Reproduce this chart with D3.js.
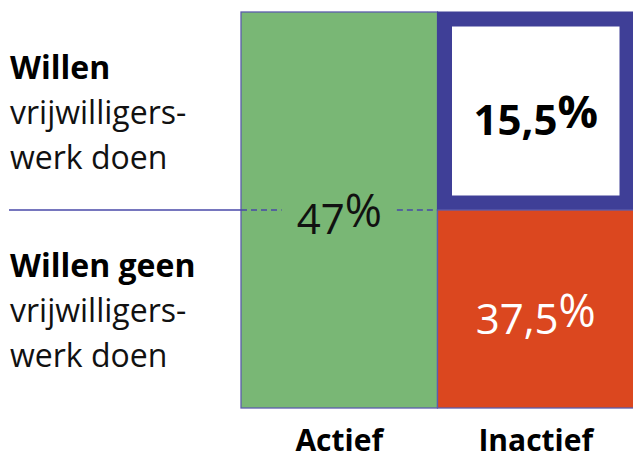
<!DOCTYPE html>
<html>
<head>
<meta charset="utf-8">
<script src="https://cdn.jsdelivr.net/npm/d3@7"></script>
<style>
  html, body { margin: 0; padding: 0; background: #ffffff; }
  svg { display: block; font-family: "Open Sans", sans-serif; }
</style>
</head>
<body>
<svg id="chart" width="633" height="460"></svg>
<script>
// ---- data ----
const columns = ["Actief", "Inactief"];
const rowKeys = ["Willen", "Willen geen"];
const rowLabelRest = ["vrijwilligers-", "werk doen"];
const actiefValues = [47];            // spans both rows
const inactiefValues = [15.5, 37.5];  // per row

// ---- setup ----
const svg = d3.select("#chart");
const nl = d3.formatLocale({ decimal: ",", thousands: ".", grouping: [3], currency: ["€", ""] });
const fmt = v => nl.format(Number.isInteger(v) ? "d" : ".1f")(v);

const x = d3.scaleBand().domain(columns).range([241, 634]).paddingInner(0);
const y = d3.scaleBand().domain(rowKeys).range([12, 408]).paddingInner(0);

const green = "#79b775", orange = "#db471f", blue = "#3f3f97", thin = "#5c5cac";

// Actief column (full height)
svg.append("g").selectAll("rect").data(actiefValues).join("rect")
  .attr("x", x("Actief")).attr("y", y.range()[0])
  .attr("width", x.bandwidth()).attr("height", y.range()[1] - y.range()[0])
  .attr("fill", green).attr("stroke", thin).attr("stroke-width", 1.3);

// Inactief cells
const inCells = rowKeys.map((r, i) => ({ row: r, value: inactiefValues[i] }));
const sw = 14;
svg.append("g").selectAll("rect").data(inCells).join("rect")
  .attr("x", d => d.row === "Willen" ? x("Inactief") + sw / 2 : x("Inactief"))
  .attr("y", d => d.row === "Willen" ? y(d.row) + sw / 2 : y(d.row))
  .attr("width", d => d.row === "Willen" ? x.bandwidth() - sw : x.bandwidth())
  .attr("height", d => d.row === "Willen" ? y.bandwidth() - sw : y.bandwidth())
  .attr("fill", d => d.row === "Willen" ? "#ffffff" : orange)
  .attr("stroke", d => d.row === "Willen" ? blue : thin)
  .attr("stroke-width", d => d.row === "Willen" ? sw + 1 : 1.3);

// Horizontal divider
const yMid = y("Willen geen");
svg.append("line")
  .attr("x1", 9).attr("x2", x("Actief")).attr("y1", yMid).attr("y2", yMid)
  .attr("stroke", "#4848a8").attr("stroke-width", 1.4);

// Percentage labels
function pctLabel(g, value, cx, baseline, color, weight) {
  const t = g.append("text").attr("x", cx).attr("y", baseline)
    .attr("text-anchor", "middle").attr("fill", color)
    .attr("font-size", 42).attr("font-weight", weight);
  t.append("tspan").attr("dy", 7).text(fmt(value));
  t.append("tspan").attr("dy", -7).attr("font-size", 45).text("%");
  return t;
}
const labels = svg.append("g");
const t47 = pctLabel(labels, actiefValues[0], x("Actief") + x.bandwidth() / 2, yMid + 17, "#111111", 400);
pctLabel(labels, inactiefValues[0], x("Inactief") + x.bandwidth() / 2, y("Willen") + 116, "#000000", 700);
pctLabel(labels, inactiefValues[1], x("Inactief") + x.bandwidth() / 2, y("Willen geen") + 117, "#ffffff", 400);

// dashed divider inside Actief column, gapped around the label
const bb = t47.node().getBBox();
svg.append("g").selectAll("line")
  .data([[x("Actief"), bb.x - 15], [bb.x + bb.width + 15, x("Actief") + x.bandwidth()]])
  .join("line")
  .attr("x1", d => d[0]).attr("x2", d => d[1]).attr("y1", yMid).attr("y2", yMid)
  .attr("stroke", "#4848a8").attr("stroke-width", 1.4).attr("stroke-dasharray", "6,4");

// Row labels (left)
const rowG = svg.append("g").selectAll("g").data(rowKeys).join("g");
rowG.append("text").attr("x", 10).attr("y", d => y(d) + y.bandwidth() / 2 - 32)
  .attr("font-size", 32).attr("font-weight", 700).attr("fill", "#000").text(d => d);
rowG.selectAll("text.rest").data(rowLabelRest).join("text").attr("class", "rest")
  .attr("x", 10)
  .attr("y", function (d, i) { const r = d3.select(this.parentNode).datum(); return y(r) + y.bandwidth() / 2 + 13 + i * 45; })
  .attr("font-size", 32).attr("fill", "#111").text(d => d);

// Column labels (bottom)
svg.append("g").selectAll("text").data(columns).join("text")
  .attr("x", d => x(d) + x.bandwidth() / 2).attr("y", 451)
  .attr("text-anchor", "middle").attr("font-size", 30).attr("font-weight", 700)
  .attr("fill", "#000").text(d => d);
</script>
</body>
</html>
